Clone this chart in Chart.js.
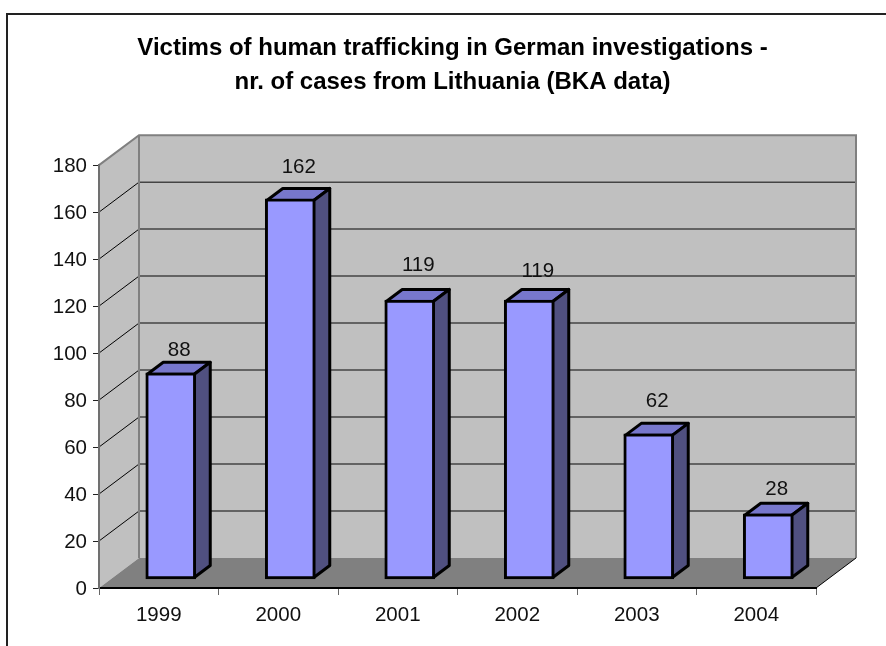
<!DOCTYPE html>
<html>
<head>
<meta charset="utf-8">
<script src="https://cdn.jsdelivr.net/npm/chart.js@4"></script>
<style>
  html, body { margin: 0; padding: 0; background: #fff; }
  #frame { position: absolute; left: 6px; top: 13px; width: 880px; height: 633px; border-left: 2px solid #222; border-top: 2px solid #222; box-sizing: border-box; }
  #chart { position: absolute; left: 0; top: 0; }
</style>
</head>
<body>
<div id="frame"></div>
<canvas id="chart" width="886" height="646"></canvas>
<script>
const years = ['1999', '2000', '2001', '2002', '2003', '2004'];
const victims = [88, 162, 119, 119, 62, 28];
const titleLines = ['Victims of human trafficking in German investigations -', 'nr. of cases from Lithuania (BKA data)'];

// fake 3d, in px
const wallDx = 40, wallDy = 30;
const barShiftX = 12, barShiftY = 8.5;
const barDepthX = 16, barDepthY = 12;
// the value labels sit at uneven heights in the original
const labelLift = [22, 32, 35, 29, 33, 24];
const fontFamily = '"Liberation Sans", Arial, sans-serif';

const walls3d = {
  id: 'walls3d',
  afterLayout(chart) {
    // title is centred a little left of the plot
    chart.titleBlock.left -= 5;
    chart.titleBlock.right -= 5;
  },
  beforeDraw(chart) {
    const { ctx, chartArea: a, scales: { y } } = chart;
    ctx.save();
    // side wall
    ctx.fillStyle = '#c0c0c0';
    ctx.beginPath();
    ctx.moveTo(a.left, a.top);
    ctx.lineTo(a.left + wallDx, a.top - wallDy);
    ctx.lineTo(a.left + wallDx, a.bottom - wallDy);
    ctx.lineTo(a.left, a.bottom);
    ctx.closePath();
    ctx.fill();
    // back wall
    ctx.fillRect(a.left + wallDx, a.top - wallDy, a.width, a.height);
    // floor
    ctx.fillStyle = '#808080';
    ctx.beginPath();
    ctx.moveTo(a.left, a.bottom);
    ctx.lineTo(a.left + wallDx, a.bottom - wallDy);
    ctx.lineTo(a.right + wallDx, a.bottom - wallDy);
    ctx.lineTo(a.right, a.bottom);
    ctx.closePath();
    ctx.fill();
    // grid lines
    y.ticks.forEach(t => {
      if (t.value === 0 || t.value === 180) return;
      const py = y.getPixelForValue(t.value);
      ctx.strokeStyle = '#000';
      ctx.lineWidth = 1;
      ctx.beginPath();
      ctx.moveTo(a.left, py);
      ctx.lineTo(a.left + wallDx, py - wallDy);
      ctx.stroke();
      ctx.strokeStyle = '#444';
      ctx.lineWidth = 1.5;
      ctx.beginPath();
      ctx.moveTo(a.left + wallDx, py - wallDy);
      ctx.lineTo(a.right + wallDx, py - wallDy);
      ctx.stroke();
    });
    // wall edges
    ctx.strokeStyle = '#808080';
    ctx.lineWidth = 2;
    ctx.beginPath();
    ctx.moveTo(a.left, a.top);
    ctx.lineTo(a.left + wallDx, a.top - wallDy);
    ctx.lineTo(a.right + wallDx, a.top - wallDy);
    ctx.lineTo(a.right + wallDx, a.bottom - wallDy);
    ctx.moveTo(a.left + wallDx, a.top - wallDy);
    ctx.lineTo(a.left + wallDx, a.bottom - wallDy);
    ctx.stroke();
    // front edge of the floor, right side
    ctx.strokeStyle = '#000';
    ctx.lineWidth = 1;
    ctx.beginPath();
    ctx.moveTo(a.right, a.bottom);
    ctx.lineTo(a.right + wallDx, a.bottom - wallDy);
    ctx.stroke();
    ctx.restore();
  }
};

const bars3d = {
  id: 'bars3d',
  beforeDatasetsDraw(chart) {
    const { ctx } = chart;
    ctx.save();
    ctx.translate(barShiftX, -barShiftY);
    ctx.lineWidth = 3;
    ctx.lineJoin = 'round';
    ctx.strokeStyle = '#000';
    chart.getDatasetMeta(0).data.forEach(bar => {
      const l = bar.x - bar.width / 2 + 1.5, r = bar.x + bar.width / 2 - 1.5;
      const t = bar.y + 1.5, b = bar.base - 1.5;
      // top face
      ctx.fillStyle = '#7777cc';
      ctx.beginPath();
      ctx.moveTo(l, t);
      ctx.lineTo(l + barDepthX, t - barDepthY);
      ctx.lineTo(r + barDepthX, t - barDepthY);
      ctx.lineTo(r, t);
      ctx.closePath();
      ctx.fill();
      ctx.stroke();
      // side face
      ctx.fillStyle = '#505080';
      ctx.beginPath();
      ctx.moveTo(r, t);
      ctx.lineTo(r + barDepthX, t - barDepthY);
      ctx.lineTo(r + barDepthX, b - barDepthY);
      ctx.lineTo(r, b);
      ctx.closePath();
      ctx.fill();
      ctx.stroke();
    });
  },
  afterDatasetsDraw(chart) {
    const { ctx } = chart;
    ctx.fillStyle = '#111';
    ctx.font = '20.5px ' + fontFamily;
    ctx.textAlign = 'center';
    ctx.textBaseline = 'middle';
    chart.getDatasetMeta(0).data.forEach((bar, i) => {
      ctx.fillText(victims[i], bar.x + 8.5, bar.y - labelLift[i]);
    });
    ctx.restore();
  }
};

new Chart(document.getElementById('chart'), {
  type: 'bar',
  data: {
    labels: years,
    datasets: [{
      data: victims,
      backgroundColor: '#9999ff',
      borderColor: '#000',
      borderWidth: 3,
      borderSkipped: false,
      barThickness: 50,
      clip: false
    }]
  },
  plugins: [walls3d, bars3d],
  options: {
    responsive: false,
    animation: false,
    layout: { padding: { left: 0, right: 70, top: 0, bottom: 0 } },
    plugins: {
      legend: { display: false },
      tooltip: { enabled: false },
      title: {
        display: true,
        fullSize: false,
        text: titleLines,
        color: '#000',
        font: { family: fontFamily, size: 24, weight: 'bold', lineHeight: 1.42 },
        padding: { top: 31, bottom: 66 }
      }
    },
    scales: {
      x: {
        afterFit(s) { s.height = 58; },
        grid: { drawOnChartArea: false, offset: true, color: '#666', tickLength: 7 },
        border: { color: '#000', width: 2 },
        ticks: { color: '#111', padding: 8, maxRotation: 0, font: { family: fontFamily, size: 20.5 } }
      },
      y: {
        min: 0,
        max: 180,
        afterFit(s) { s.width = 99; },
        grid: { drawOnChartArea: false, color: '#222', tickLength: 6 },
        border: { color: '#707070', width: 2 },
        ticks: { stepSize: 20, color: '#111', padding: 6, labelOffset: 1, font: { family: fontFamily, size: 20.5 } }
      }
    }
  }
});
</script>
</body>
</html>
